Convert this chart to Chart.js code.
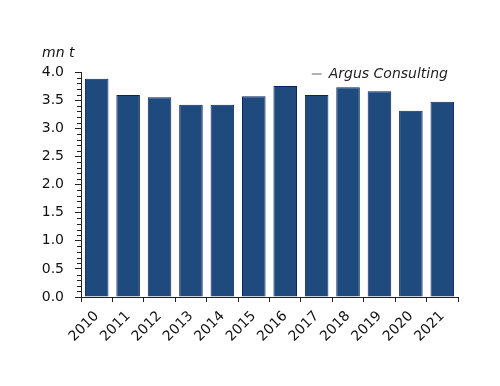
<!DOCTYPE html>
<html lang="en">
  <head>
    <meta charset="UTF-8" />
    <title>Argus Consulting - mn t</title>
    <script src="https://cdn.jsdelivr.net/npm/chart.js"></script>
    <style>
      html, body { margin: 0; padding: 0; background: #fff; }
      #wrap { width: 500px; height: 386px; }
    </style>
  </head>
  <body>
    <div id="wrap"><canvas id="barChart" width="500" height="386"></canvas></div>

    <script>
      // chart data
      const years = ["2010", "2011", "2012", "2013", "2014", "2015", "2016", "2017", "2018", "2019", "2020", "2021"];
      const volumes = [3.88, 3.59, 3.55, 3.42, 3.42, 3.57, 3.75, 3.59, 3.73, 3.66, 3.31, 3.47];
      const yMin = 0;
      const yMax = 4;
      const yStep = 0.5;
      const yMinorStep = 0.1;
      const unitLabel = "mn t";
      const sourceLabel = "Argus Consulting";

      const FONT = "'DejaVu Sans', Verdana, sans-serif";

      // minor ticks on the y axis + unit and source text
      const extras = {
        id: "extras",
        afterDraw(chart) {
          const ctx = chart.ctx;
          const y = chart.scales.y;
          const area = chart.chartArea;
          ctx.save();
          ctx.strokeStyle = "#222";
          ctx.lineWidth = 1;
          const n = Math.round((yMax - yMin) / yMinorStep);
          for (let i = 0; i <= n; i++) {
            if (i % 5 === 0) continue;
            const py = Math.round(y.getPixelForValue(yMin + i * yMinorStep)) + 0.5;
            ctx.beginPath();
            ctx.moveTo(area.left - 4, py);
            ctx.lineTo(area.left, py);
            ctx.stroke();
          }

          // unit
          ctx.fillStyle = "#111";
          ctx.font = "italic 14px " + FONT;
          ctx.textAlign = "left";
          ctx.textBaseline = "alphabetic";
          ctx.fillText(unitLabel, area.left - 39, area.top - 15);

          // source
          ctx.textAlign = "right";
          ctx.fillStyle = "#222";
          const tx = area.right - 10;
          const w = ctx.measureText(sourceLabel).width;
          ctx.fillText(sourceLabel, tx, area.top + 6);
          ctx.strokeStyle = "#999";
          ctx.lineWidth = 1.5;
          ctx.beginPath();
          ctx.moveTo(tx - w - 17, area.top + 2);
          ctx.lineTo(tx - w - 7, area.top + 2);
          ctx.stroke();
          ctx.restore();
        },
      };

      const ctx1 = document.getElementById("barChart").getContext("2d");
      new Chart(ctx1, {
        type: "bar",
        data: {
          labels: years,
          datasets: [
            {
              label: sourceLabel,
              data: volumes,
              backgroundColor: "#1f4a7e",
              borderColor: "#0b2260",
              borderWidth: 1,
              barPercentage: 0.75,
              categoryPercentage: 1,
            },
          ],
        },
        options: {
          responsive: false,
          animation: false,
          layout: { padding: { left: 0, right: 42, top: 72, bottom: 0 } },
          scales: {
            x: {
              grid: {
                offset: true,
                drawOnChartArea: false,
                drawTicks: true,
                tickLength: 5,
                color: "#222",
              },
              border: { display: true, color: "#222", width: 1 },
              ticks: {
                color: "#111",
                font: { family: FONT, size: 14 },
                maxRotation: 45,
                minRotation: 45,
                autoSkip: false,
                padding: 6,
              },
              afterFit(scale) {
                scale.height = 89;
              },
            },
            y: {
              min: yMin,
              max: yMax,
              grid: {
                drawOnChartArea: false,
                drawTicks: true,
                tickLength: 6,
                color: "#222",
              },
              border: { display: true, color: "#222", width: 1 },
              ticks: {
                stepSize: yStep,
                color: "#111",
                font: { family: FONT, size: 14 },
                padding: 11,
                callback: (v) => Number(v).toFixed(1),
              },
              afterFit(scale) {
                scale.width = 81;
              },
            },
          },
          plugins: {
            legend: { display: false },
            tooltip: { enabled: false },
          },
        },
        plugins: [extras],
      });
    </script>
  </body>
</html>
